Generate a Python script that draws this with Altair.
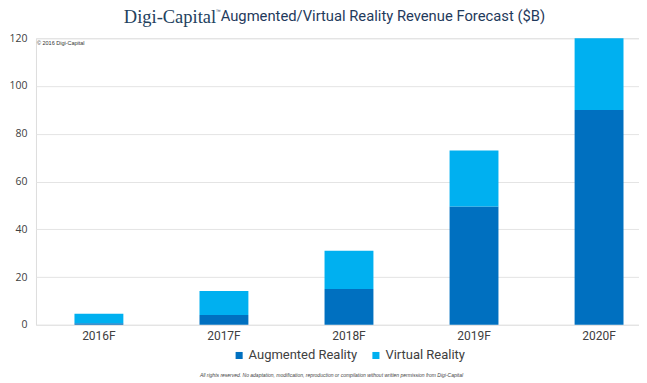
import altair as alt
import pandas as pd

years = ["2016F", "2017F", "2018F", "2019F", "2020F"]
ar_values = [0.6, 4.1, 15.0, 49.5, 90.0]
vr_values = [4.0, 10.1, 16.0, 23.5, 30.0]
series = ["Augmented Reality", "Virtual Reality"]
colors = ["#0070c0", "#00b0f0"]
y_ticks = [0, 20, 40, 60, 80, 100, 120]

rows = []
for i, yr in enumerate(years):
    rows.append({"year": yr, "series": series[0], "value": ar_values[i], "ord": 0})
    rows.append({"year": yr, "series": series[1], "value": vr_values[i], "ord": 1})
df = pd.DataFrame(rows)

W, H = 604, 287
SANS = "Roboto, sans-serif"

bars = alt.Chart(df).mark_bar().encode(
    x=alt.X("year:N", sort=years, title=None,
            scale=alt.Scale(paddingInner=0.609, paddingOuter=0.216, align=0.713),
            axis=alt.Axis(labelAngle=0, ticks=False, domain=False, grid=False,
                          labelFontSize=12, labelColor="#404040", labelPadding=6,
                          labelFont=SANS)),
    y=alt.Y("value:Q", stack="zero", title=None,
            scale=alt.Scale(domain=[0, 120], nice=False),
            axis=alt.Axis(values=y_ticks, domain=False, ticks=False,
                          gridColor="#e4e4e4", labelFontSize=10.5, labelColor="#404040",
                          labelPadding=9, labelFont="Open Sans")),
    color=alt.Color("series:N", sort=series,
                    scale=alt.Scale(domain=series, range=colors),
                    legend=alt.Legend(orient="none", direction="horizontal",
                                      legendX=197, legendY=311, title=None,
                                      symbolType="square", symbolSize=50,
                                      labelFontSize=13, labelColor="#404040",
                                      labelFont=SANS, columnPadding=12,
                                      symbolStrokeWidth=0, labelOffset=3)),
    order=alt.Order("ord:Q"),
)

copyright_txt = alt.Chart(pd.DataFrame({"t": ["© 2016 Digi-Capital"]})).mark_text(
    align="left", baseline="middle", fontSize=5.5, color="#333333", font="Liberation Sans"
).encode(x=alt.value(1), y=alt.value(5), text="t:N")

logo = alt.Chart(pd.DataFrame({"t": ["Digi-Capital"]})).mark_text(
    align="left", baseline="middle", fontSize=18.5, color="#23415e", font="Liberation Serif"
).encode(x=alt.value(88), y=alt.value(-21), text="t:N")

tm = alt.Chart(pd.DataFrame({"t": ["™"]})).mark_text(
    align="left", baseline="middle", fontSize=5, color="#23415e", font="Liberation Sans"
).encode(x=alt.value(180), y=alt.value(-27), text="t:N")

title_txt = alt.Chart(pd.DataFrame({"t": ["Augmented/Virtual Reality Revenue Forecast ($B)"]})).mark_text(
    align="left", baseline="middle", fontSize=14.8, color="#1f3a5c", font=SANS
).encode(x=alt.value(185), y=alt.value(-21), text="t:N")

footnote = alt.Chart(pd.DataFrame({"t": ["All rights reserved. No adaptation, modification, reproduction or compilation without written permission from Digi-Capital"]})).mark_text(
    align="center", baseline="middle", fontSize=5, fontStyle="italic", color="#444444",
    font="Liberation Sans"
).encode(x=alt.value(W / 2 - 6), y=alt.value(H + 50), text="t:N")

chart = alt.layer(bars, copyright_txt, logo, tm, title_txt, footnote).properties(
    width=W, height=H, padding={"left": 0, "right": 0, "top": 0, "bottom": 0}
).configure_view(stroke=None).configure(background="white")

chart.save("out.html", embed_options={"renderer": "svg", "actions": False})
